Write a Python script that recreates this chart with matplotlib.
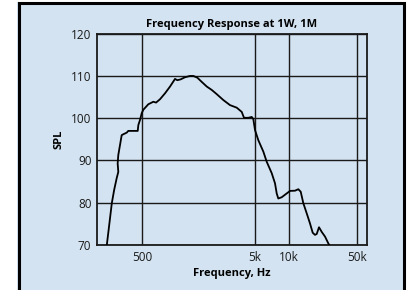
import matplotlib
matplotlib.use("Agg")
import matplotlib.pyplot as plt
from matplotlib.patches import Rectangle
from matplotlib.ticker import FixedLocator, FixedFormatter, NullLocator

# Data
freq = [242, 253, 268, 281, 296, 306, 302, 306, 317, 328, 339, 364, 375, 455, 461,
        477, 494, 510, 565, 626, 662, 718, 795, 881, 975, 1022, 1096, 1196, 1325,
        1418, 1538, 1683, 1864, 2064, 2286, 2617, 3000, 3440, 3810, 3994, 4361,
        4674, 4830, 5000, 5350, 5927, 6350, 7034, 7523, 7790, 8047, 8629, 9557,
        10225, 11323, 12115, 12727, 13416, 14377, 15381, 16256, 17037, 17640,
        18490, 19541, 20900, 22350, 22800]
spl = [70.0, 74.3, 79.9, 83.0, 85.8, 87.3, 89.3, 91.3, 93.7, 96.0, 96.2, 96.6, 97.0,
       97.0, 98.4, 99.6, 101.2, 102.0, 103.3, 103.9, 103.7, 104.5, 105.9, 107.5,
       109.3, 109.0, 109.2, 109.7, 110.0, 110.0, 109.6, 108.6, 107.5, 106.7,
       105.7, 104.3, 103.1, 102.5, 101.5, 100.1, 100.1, 100.3, 99.8, 97.2, 94.8,
       92.1, 89.7, 87.0, 84.6, 82.2, 81.0, 81.3, 82.2, 82.8, 82.85, 83.2, 82.6,
       79.9, 77.5, 75.1, 72.9, 72.4, 72.6, 74.2, 73.1, 72.0, 70.4, 70.0]

x_ticks = [500, 5000, 10000, 40000]
x_labels = ["500", "5k", "10k", "50k"]
y_ticks = [70, 80, 90, 100, 110, 120]

bg = "#d3e3f1"
plt.rcParams["font.family"] = ["Open Sans", "DejaVu Sans"]

fig = plt.figure(figsize=(4.09, 2.90), dpi=100)
W, H = 409, 290
# blue panel with black frame (open at the bottom)
panel = Rectangle((17 / W, -0.05), (405 - 17) / W, (288.5 / H) + 0.05,
                  transform=fig.transFigure, facecolor=bg, edgecolor="none",
                  zorder=-10)
fig.add_artist(panel)
fig.add_artist(plt.Line2D([18.5 / W, 18.5 / W, 403.8 / W, 403.8 / W],
                          [-0.01, 1 - 2.8 / H, 1 - 2.8 / H, -0.01],
                          transform=fig.transFigure, color="black", lw=2.2,
                          solid_joinstyle="miter", zorder=-5))

ax = fig.add_axes([97 / W, 1 - 245 / H, (366.7 - 97) / W, (245 - 33.7) / H])
ax.set_facecolor(bg)
ax.set_xscale("log")
ax.set_xlim(198, 49000)
ax.set_ylim(70, 120)

ax.xaxis.set_major_locator(FixedLocator(x_ticks))
ax.xaxis.set_major_formatter(FixedFormatter(x_labels))
ax.xaxis.set_minor_locator(NullLocator())
ax.set_yticks(y_ticks)

ax.grid(True, color="#1a1a1a", lw=1.0)
ax.set_axisbelow(True)
ax.tick_params(length=0, labelsize=8.5, pad=4, colors="#1a1a1a")
for s in ax.spines.values():
    s.set_color("#1a1a1a")
    s.set_linewidth(1.3)

ax.plot(freq, spl, color="black", lw=1.3, zorder=3)

ax.set_title("Frequency Response at 1W, 1M", fontsize=8, fontweight="bold", pad=5)
ax.set_xlabel("Frequency, Hz", fontsize=8, fontweight="bold", labelpad=3)
ax.set_ylabel("SPL", fontsize=8, fontweight="bold", labelpad=5)

fig.savefig("out.png", dpi=100, facecolor="white")
